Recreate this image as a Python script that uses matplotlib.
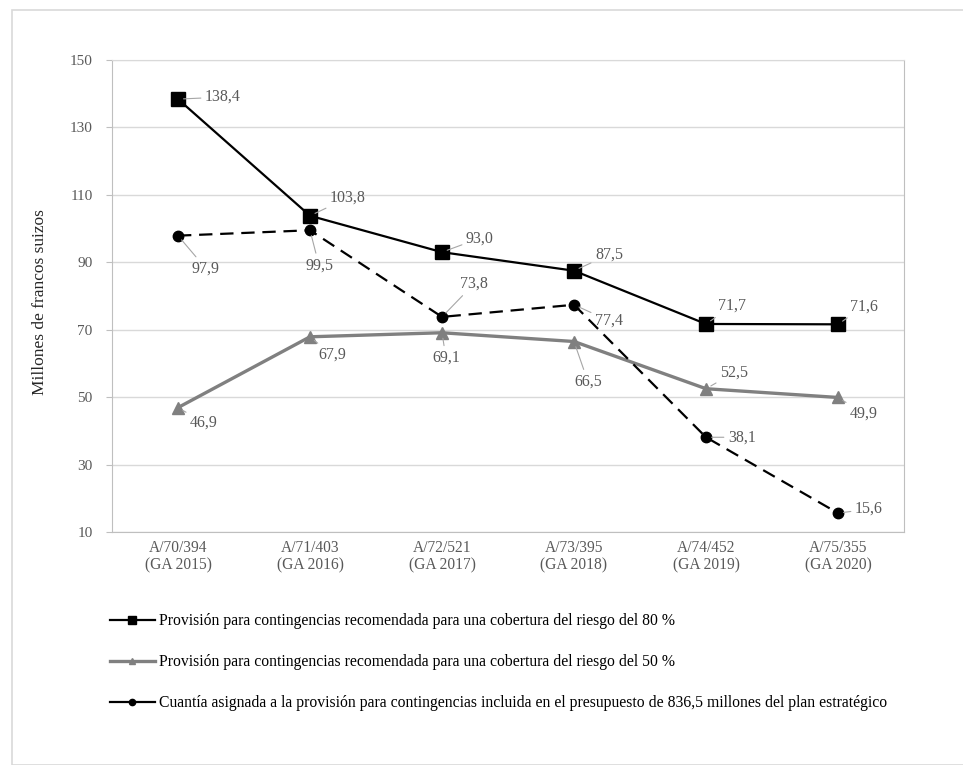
import matplotlib
matplotlib.use("Agg")
import matplotlib.pyplot as plt
from matplotlib.lines import Line2D
from matplotlib.patches import Rectangle

plt.rcParams['font.family'] = ['Liberation Serif', 'DejaVu Serif']

categories = ["A/70/394\n(GA 2015)", "A/71/403\n(GA 2016)", "A/72/521\n(GA 2017)",
              "A/73/395\n(GA 2018)", "A/74/452\n(GA 2019)", "A/75/355\n(GA 2020)"]
cobertura_80 = [138.4, 103.8, 93.0, 87.5, 71.7, 71.6]
cobertura_50 = [46.9, 67.9, 69.1, 66.5, 52.5, 49.9]
presupuesto = [97.9, 99.5, 73.8, 77.4, 38.1, 15.6]
y_ticks = [10, 30, 50, 70, 90, 110, 130, 150]

labels = [
    "Provisión para contingencias recomendada para una cobertura del riesgo del 80 %",
    "Provisión para contingencias recomendada para una cobertura del riesgo del 50 %",
    "Cuantía asignada a la provisión para contingencias incluida en el presupuesto de 836,5 millones del plan estratégico",
]

# label offsets in pixels (dx to text left edge, dy to text centre)
off_80 = [(27, 2), (20, 18), (24, 14), (21, 16), (12, 18), (12, 18)]
off_50 = [(12, -15), (8, -18), (-10, -25), (0, -40), (14, 16), (12, -16)]
off_pr = [(14, -33), (-5, -35), (18, 33), (21, -16), (22, 0), (17, 4)]

W, H = 963, 765
fig = plt.figure(figsize=(W / 100, H / 100), dpi=100)
fig.patches.append(Rectangle((12 / W, 0), 1, 1 - 10 / H, transform=fig.transFigure,
                             fill=False, edgecolor='#d9d9d9', lw=1.2))

ax = fig.add_axes([112 / W, 1 - 532 / H, (904 - 112) / W, (532 - 60) / H])
x = list(range(len(categories)))

grid_c = '#d9d9d9'
for s in ['left', 'right', 'bottom']:
    ax.spines[s].set_color('#bfbfbf')
ax.spines['top'].set_color(grid_c)
ax.set_ylim(10, 150)
ax.set_xlim(-0.5, 5.5)
ax.set_yticks(y_ticks)
ax.yaxis.grid(True, color=grid_c, lw=1)
ax.set_axisbelow(True)
ax.set_xticks(x)
ax.set_xticklabels(categories, fontsize=11.2, color='#595959', linespacing=1.15)
ax.tick_params(axis='x', length=0, pad=5.5)
ax.tick_params(axis='y', length=4, color='#bfbfbf', labelsize=11, labelcolor='#595959', pad=10)
ax.set_ylabel("Millones de francos suizos", fontsize=12.5, color='#262626')
ax.yaxis.set_label_coords((48 - 112) / 792, (532 - 302) / 472)

ax.plot(x, cobertura_50, color='#808080', lw=2.4, marker='^', markersize=9, zorder=3)
ax.plot(x, presupuesto, color='black', lw=1.6, ls=(0, (6, 3.5)), marker='o', markersize=7.5, zorder=4)
ax.plot(x, cobertura_80, color='black', lw=1.6, marker='s', markersize=10, zorder=5)


def fmt(v):
    return f"{v:.1f}".replace('.', ',')


def annotate(vals, offs):
    for xi, v, (dx, dy) in zip(x, vals, offs):
        ax.annotate(fmt(v), xy=(xi, v), xytext=(dx, dy), textcoords='offset pixels',
                    ha='left', va='center', fontsize=11.5, color='#595959', zorder=6,
                    arrowprops=dict(arrowstyle='-', color='#a6a6a6', lw=0.8,
                                    shrinkA=1, shrinkB=4))


annotate(cobertura_80, off_80)
annotate(cobertura_50, off_50)
annotate(presupuesto, off_pr)

handles = [
    Line2D([], [], color='black', lw=1.6, marker='s', markersize=6),
    Line2D([], [], color='#808080', lw=2.4, marker='^', markersize=5),
    Line2D([], [], color='black', lw=1.6, marker='o', markersize=4.5),
]
fig.legend(handles, labels, loc='upper left', bbox_to_anchor=(110 / W, 1 - 613 / H),
           frameon=False, fontsize=11.3, handlelength=2.85, handletextpad=0.25,
           labelspacing=1.6, borderaxespad=0, borderpad=0)

fig.savefig("out.png", dpi=100)
